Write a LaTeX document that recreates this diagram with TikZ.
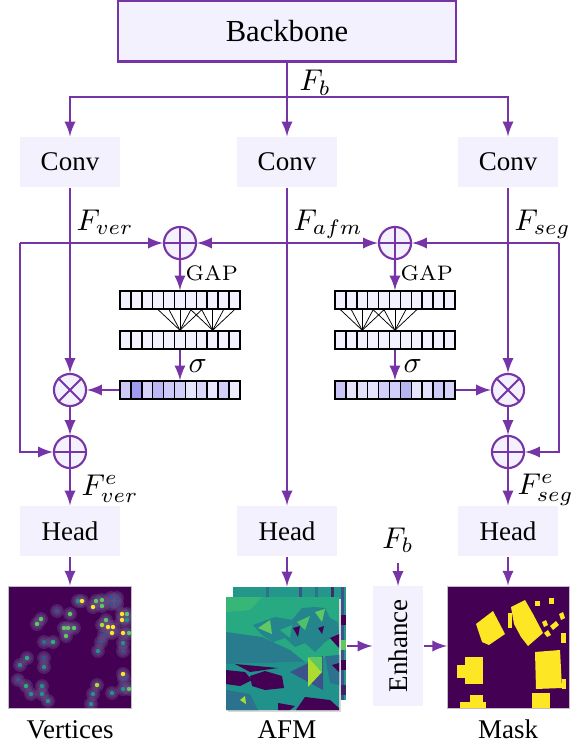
\documentclass[tikz,border=0pt]{standalone}
\usepackage{amsmath,amssymb,amsfonts}
\usepackage{xcolor}
\usepackage{graphicx}
\usepackage{fontspec}
\newfontfamily\tnr{Liberation Serif}
\usepackage{tikz}
\definecolor{vio}{RGB}{118,52,166}
\definecolor{lav}{RGB}{243,241,253}
\definecolor{att}{RGB}{158,154,240}
\definecolor{halo}{RGB}{105,80,135}
\definecolor{vd0}{HTML}{440154}
\definecolor{vd1}{HTML}{3B528B}
\definecolor{vd2}{HTML}{2C728E}
\definecolor{vd3}{HTML}{21918C}
\definecolor{vd4}{HTML}{28AE80}
\definecolor{vd5}{HTML}{5EC962}
\definecolor{vd6}{HTML}{ADDC30}
\definecolor{vd7}{HTML}{FDE725}

\begin{document}
\begin{tikzpicture}[x=0.3333pt, y=-0.3333pt,
	flow/.style={draw=vio, line width=0.7pt, -latex},
	wire/.style={draw=vio, line width=0.7pt},
	box/.style={fill=lav, minimum width=33.3pt, minimum height=16.7pt, inner sep=0pt, font=\tnr\fontsize{9}{11}\selectfont},
	opnode/.style={circle, draw=vio, fill=lav, line width=0.7pt, minimum size=10.7pt, inner sep=0pt},
	cellbox/.style={draw=black, line width=0.5pt, fill=lav, minimum width=3.63pt, minimum height=6pt, inner sep=0pt},
	fig/.style={draw=black!25, line width=0.3pt, minimum size=40.7pt, inner sep=0pt},
	lbl/.style={anchor=base west, inner sep=0pt},
	figlabel/.style={anchor=base, font=\tnr\fontsize{9}{11}\selectfont}]
	\useasboundingbox (0,0) rectangle (576,746);
	% vertex heatmap
	\begin{scope}
		\clip (9,586) rectangle (131,708);
		\fill[vd0] (9,586) rectangle (131,708);
		\foreach \x/\y/\c in {78/601/vd3, 82/601/vd7, 96/601/vd5, 102/600/vd5, 111/598/vd1, 117/598/vd1, 111/604/vd1, 117/604/vd1, 93/607/vd7, 102/606/vd5, 57/611/vd1, 70/614/vd5, 41/619/vd5, 37/624/vd5, 122/614/vd7, 127/614/vd5, 122/620/vd7, 127/620/vd3, 106/620/vd5, 102/625/vd6, 108/627/vd7, 113/627/vd7, 112/633/vd7, 64/628/vd5, 68/628/vd5, 74/628/vd5, 66/636/vd5, 104/635/vd1, 101/642/vd1, 123/633/vd7, 129/633/vd5, 44/642/vd2, 53/642/vd4, 123/643/vd3, 98/651/vd3, 123/651/vd1, 27/658/vd4, 20/665/vd3, 44/658/vd1, 44/667/vd3, 18/680/vd1, 26/686/vd4, 31/694/vd3, 42/686/vd3, 42/694/vd3, 48/701/vd3, 123/674/vd7, 124/679/vd1, 97/685/vd6, 93/694/vd3, 112/693/vd3, 123/689/vd3, 129/689/vd5, 91/704/vd3} {
			\fill[halo, opacity=0.4] (\x,\y) circle (2.3pt);
			\fill[halo, opacity=0.4] (\x,\y) circle (1.6pt);
		}
		\foreach \x/\y/\c in {78/601/vd3, 82/601/vd7, 96/601/vd5, 102/600/vd5, 111/598/vd1, 117/598/vd1, 111/604/vd1, 117/604/vd1, 93/607/vd7, 102/606/vd5, 57/611/vd1, 70/614/vd5, 41/619/vd5, 37/624/vd5, 122/614/vd7, 127/614/vd5, 122/620/vd7, 127/620/vd3, 106/620/vd5, 102/625/vd6, 108/627/vd7, 113/627/vd7, 112/633/vd7, 64/628/vd5, 68/628/vd5, 74/628/vd5, 66/636/vd5, 104/635/vd1, 101/642/vd1, 123/633/vd7, 129/633/vd5, 44/642/vd2, 53/642/vd4, 123/643/vd3, 98/651/vd3, 123/651/vd1, 27/658/vd4, 20/665/vd3, 44/658/vd1, 44/667/vd3, 18/680/vd1, 26/686/vd4, 31/694/vd3, 42/686/vd3, 42/694/vd3, 48/701/vd3, 123/674/vd7, 124/679/vd1, 97/685/vd6, 93/694/vd3, 112/693/vd3, 123/689/vd3, 129/689/vd5, 91/704/vd3}
			\fill[\c] (\x,\y) circle (0.75pt);
	\end{scope}
	% AFM stack
	\fill[vd3!80!vd4] (233,587) rectangle (346,700);
	\foreach \x/\c in {266/vd2, 299/vd1, 315/vd2, 331/vd0!60!vd2, 341/vd1}
		\fill[\c] (\x,587) rectangle ({\x+3},700);
	\foreach \y/\c in {615/vd0, 640/vd5, 660/vd0, 685/vd0!70!vd2}
		\fill[\c] (339,\y) rectangle (346,{\y+10});
	\fill[black!15] (228,599) rectangle (341,712);
	\begin{scope}
		\clip (226,597) rectangle (339,710);
		\fill[vd4!85!vd3] (226,597) rectangle (339,710);
		\fill[vd4!70!vd5] (226,597) -- (262,597) -- (250,610) -- (226,612) -- cycle;
		\fill[vd2!70!vd3] (226,632) -- (262,637) -- (290,650) -- (305,662) -- (226,664) -- cycle;
		\fill[vd3!60!vd2] (253,625) -- (275,617) -- (292,620) -- (302,608) -- (315,607) -- (325,608) -- (330,618) -- (338,622) -- (339,633) -- (325,642) -- (315,652) -- (305,643) -- (295,647) -- (285,638) -- (273,642) -- (262,635) -- cycle;
		\fill[vd5] (258,628) -- (270,620) -- (272,634) -- cycle;
		\fill[vd5!70!vd4] (297,622) -- (310,616) -- (305,630) -- cycle;
		\fill[vd4] (280,630) -- (292,625) -- (290,638) -- cycle;
		\fill[vd5] (315,612) -- (325,609) -- (322,622) -- cycle;
		\fill[vd0] (293,628) -- (300,626) -- (298,637) -- cycle;
		\fill[vd0] (330,638) -- (339,634) -- (339,648) -- cycle;
		\fill[vd0] (318,628) -- (324,626) -- (322,634) -- cycle;
		\fill[vd3] (226,664) -- (305,662) -- (339,655) -- (339,710) -- (226,710) -- cycle;
		\fill[vd0] (235,664) -- (278,668) -- (250,672) -- cycle;
		\fill[vd0] (226,670) -- (245,672) -- (252,680) -- (240,686) -- (226,684) -- cycle;
		\fill[vd0] (250,676) -- (265,671) -- (282,676) -- (284,688) -- (265,690) -- (252,686) -- cycle;
		\fill[vd1] (290,672) -- (323,656) -- (323,690) -- cycle;
		\fill[vd6] (308,657) -- (322,672) -- (308,687) -- cycle;
		\fill[vd5] (308,657) -- (322,657) -- (322,672) -- cycle;
		\fill[vd2] (325,656) -- (339,655) -- (339,685) -- (330,683) -- cycle;
		\fill[vd0] (332,665) -- (339,663) -- (339,672) -- cycle;
		\fill[vd2] (226,690) -- (250,694) -- (258,710) -- (226,710) -- cycle;
		\fill[vd6] (240,700) -- (245,696) -- (246,704) -- cycle;
		\fill[vd0] (278,703) -- (295,706) -- (290,710) -- (278,710) -- cycle;
		\fill[vd0] (296,710) -- (305,697) -- (330,700) -- (339,708) -- (339,710) -- cycle;
	\end{scope}
	% mask
	\fill[vd0] (448,586) rectangle (569,708);
	\begin{scope}
		\clip (448,586) rectangle (569,708);
		\fill[vd7] (476,624) -- (493,611) -- (505,634) -- (489,645) -- (482,642) -- cycle;
		\fill[vd7] (511,607) -- (525,600) -- (533,614) -- (543,633) -- (528,646) -- (521,637) -- (514,624) -- cycle;
		\fill[vd7] (508,613) rectangle (512,628);
		\fill[vd7] (535,601) rectangle (540,606);
		\fill[vd7] (549,598) rectangle (554,604);
		\fill[vd7] (559,614) -- (563,612) -- (565,618) -- (561,620) -- cycle;
		\fill[vd7] (542,622) -- (546,620) -- (548,625) -- (544,627) -- cycle;
		\fill[vd7] (550,626) -- (556,621) -- (559,625) -- (553,630) -- cycle;
		\fill[vd7] (544,633) -- (548,630) -- (551,635) -- (547,637) -- cycle;
		\fill[vd7] (561,633) rectangle (566,643);
		\fill[vd7] (535,652) -- (560,650) -- (562,688) -- (536,689) -- cycle;
		\fill[vd7] (562,679) rectangle (566,689);
		\fill[vd7] (465,657) rectangle (483,684);
		\fill[vd7] (457,665) rectangle (467,678);
		\fill[vd7] (470,695) rectangle (483,702);
		\fill[vd7] (460,702) rectangle (486,708);
		\fill[vd7] (532,693) rectangle (550,708);
	\end{scope}
	\node[draw=vio, fill=lav, line width=0.7pt, minimum width=112.7pt, minimum height=20.3pt, font=\tnr\fontsize{10.2}{12}\selectfont] (bb) at (287,31) {Backbone};
	\node[box] (conv1) at (70,162) {Conv};
	\node[box] (conv2) at (287,162) {Conv};
	\node[box] (conv3) at (508,162) {Conv};
	\coordinate (bus) at (287,97);
	\draw[wire] (bb.south) -- (bus);
	\draw[flow] (bus) -| (conv1.north);
	\draw[flow] (bus) -| (conv3.north);
	\draw[flow] (bus) -- (conv2.north);
	\node[lbl] (fb) at (299,91) {$F_b$};
	\node[lbl] (fver) at (76,230) {$F_{ver}$};
	\node[lbl] (fafm) at (293,230) {$F_{afm}$};
	\node[lbl] (fseg) at (514,230) {$F_{seg}$};
	\node[opnode] (sum1) at (180,243) {};
	\node[opnode] (sum2) at (395,243) {};
	\node[opnode] (mul1) at (70,390) {};
	\node[opnode] (mul2) at (508,390) {};
	\node[opnode] (add1) at (70,452) {};
	\node[opnode] (add2) at (508,452) {};
	\foreach \n in {sum1,sum2,add1,add2}
		\draw[wire] (\n.north) -- (\n.south) (\n.west) -- (\n.east);
	\foreach \n in {mul1,mul2}
		\draw[wire] (\n.north west) -- (\n.south east) (\n.north east) -- (\n.south west);
	\coordinate (loopl) at (20,243);
	\coordinate (loopr) at (559,243);
	\draw[flow] (loopl) -- (sum1.west);
	\draw[flow] (loopl) |- (add1.west);
	\draw[flow] (loopr) -- (sum2.east);
	\draw[flow] (loopr) |- (add2.east);
	\draw[flow] (conv2.south |- sum1) -- (sum1.east);
	\draw[flow] (conv2.south |- sum2) -- (sum2.west);
	\draw[flow] (conv1.south) -- (mul1.north);
	\draw[flow] (conv3.south) -- (mul2.north);
	% channel attention bars
	\foreach \i in {0,...,10} {
		\node[cellbox] (b1l-\i) at ({125.45+10.9*\i},300) {};
		\node[cellbox] (b2l-\i) at ({125.45+10.9*\i},340) {};
		\node[cellbox] (b1r-\i) at ({340.45+10.9*\i},300) {};
		\node[cellbox] (b2r-\i) at ({340.45+10.9*\i},340) {};
	}
	\foreach \i/\p in {0/45, 1/100, 2/35, 3/65, 4/45, 5/40, 6/15, 7/30, 8/12, 9/40, 10/5}
		\node[cellbox, fill=att!\p!lav] (b3l-\i) at ({125.45+10.9*\i},390) {};
	\foreach \i/\p in {0/50, 1/15, 2/20, 3/15, 4/40, 5/40, 6/70, 7/15, 8/20, 9/45, 10/35}
		\node[cellbox, fill=att!\p!lav] (b3r-\i) at ({340.45+10.9*\i},390) {};
	\foreach \i in {3,...,7}
		\draw[black, line width=0.25pt] (b1l-\i.south) -- (b2l-5.north);
	\foreach \i in {6,...,10}
		\draw[black, line width=0.25pt] (b1l-\i.south) -- (b2l-8.north);
	\foreach \i in {0,...,4}
		\draw[black, line width=0.25pt] (b1r-\i.south) -- (b2r-2.north);
	\foreach \i in {3,...,7}
		\draw[black, line width=0.25pt] (b1r-\i.south) -- (b2r-5.north);
	\draw[flow] (sum1.south) -- (b1l-5.north);
	\draw[flow] (sum2.south) -- (b1r-5.north);
	\node[lbl, font=\fontsize{7}{8}\selectfont] (gap1) at (185,280) {GAP};
	\node[lbl, font=\fontsize{7}{8}\selectfont] (gap2) at (400,280) {GAP};
	\draw[flow] (b2l-5.south) -- (b3l-5.north);
	\draw[flow] (b2r-5.south) -- (b3r-5.north);
	\node[lbl] (sig1) at (188,372) {$\sigma$};
	\node[lbl] (sig2) at (403,372) {$\sigma$};
	\draw[flow] (b3l-0.west) -- (mul1.east);
	\draw[flow] (b3r-10.east) -- (mul2.west);
	\draw[flow] (mul1.south) -- (add1.north);
	\draw[flow] (mul2.south) -- (add2.north);
	\node[box] (head1) at (70,531) {Head};
	\node[box] (head2) at (287,531) {Head};
	\node[box] (head3) at (508,531) {Head};
	\draw[flow] (add1.south) -- (head1.north);
	\draw[flow] (add2.south) -- (head3.north);
	\draw[flow] (conv2.south) -- (head2.north);
	\node[lbl] (fvere) at (81,495) {$F^{e}_{ver}$};
	\node[lbl] (fsege) at (517,494) {$F^{e}_{seg}$};
	% outputs
	\node[fig] (verts) at (70,647) {};
	\node[minimum size=37.7pt, inner sep=0pt] (afmb) at (289.5,643.5) {};
	\node[minimum size=37.7pt, inner sep=0pt] (afm) at (282.5,653.5) {};
	\node[fig] (mask) at (508.5,647) {};
	\node[box, minimum width=16.7pt, minimum height=39.7pt] (enh) at (398,646) {\rotatebox{90}{Enhance}};
	\node (fbe) at (398,540) {$F_b$};
	\draw[flow] (fbe.south) -- (enh.north);
	\draw[flow] (head1.south) -- (verts.north);
	\draw[flow] (head2.south) -- (head2.south |- afmb.north);
	\draw[flow] (head3.south) -- (head3.south |- mask.north);
	\draw[flow] (afmb.east |- enh.west) -- (enh.west);
	\draw[flow] (enh.east) -- (enh.east -| mask.west);
	\node[figlabel] (lverts) at (70,738) {Vertices};
	\node[figlabel] (lafm) at (287,738) {AFM};
	\node[figlabel] (lmask) at (508,738) {Mask};
\end{tikzpicture}
\end{document}
